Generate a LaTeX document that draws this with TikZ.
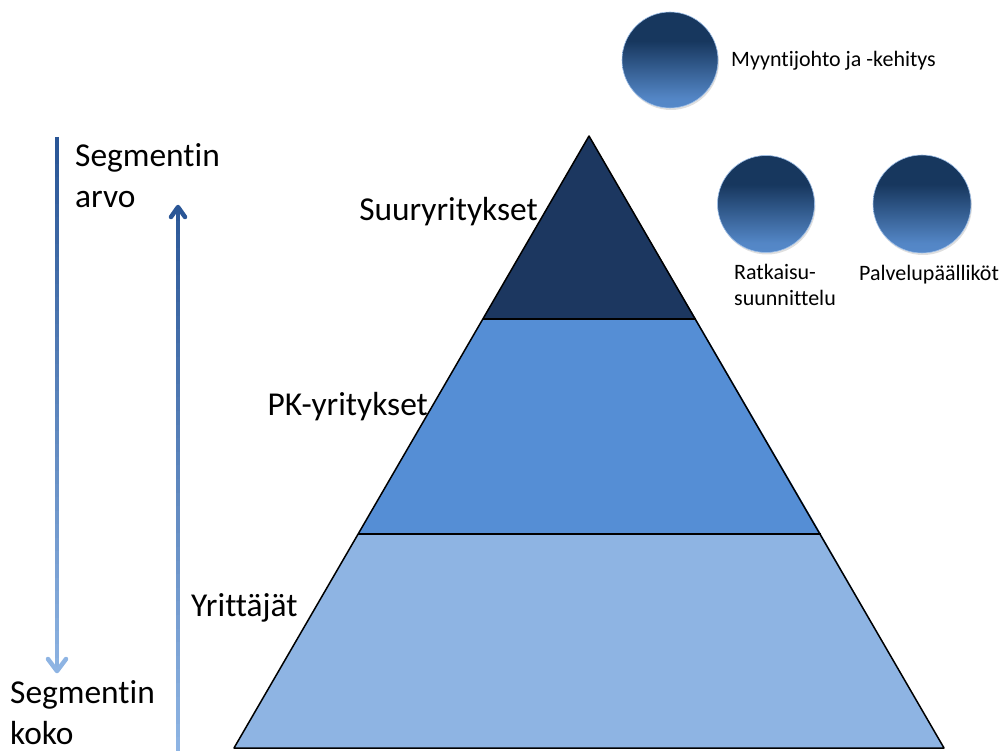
\documentclass[tikz,border=0pt]{standalone}
\usepackage{fontspec}
\setmainfont{Carlito}[Ligatures=NoCommon]
\usetikzlibrary{arrows.meta,calc,shadows}
\definecolor{pdark}{HTML}{1C3760}
\definecolor{pmid}{HTML}{558ED5}
\definecolor{plight}{HTML}{8EB4E3}
\definecolor{cdark}{HTML}{17375E}
\definecolor{clight}{HTML}{5E94D8}
\definecolor{adark}{HTML}{2A5696}
\tikzset{
  layer/.style={draw=black, line width=1.5pt, line join=round},
  bigtxt/.style={font=\fontsize{33.4}{41}\selectfont, inner sep=0pt, align=left},
  smalltxt/.style={font=\fontsize{22}{25}\selectfont, inner sep=0pt, align=left},
  ball/.style={circle, minimum size=#1, inner sep=0pt, draw=clight!60!white, line width=0.6pt, shading=ballshade, drop shadow={opacity=0.25, shadow xshift=1pt, shadow yshift=-2pt}},
  chev/.style={line width=4.5pt, line cap=round, line join=round}
}
\pgfdeclareverticalshading{ballshade}{100bp}{color(0bp)=(clight); color(30bp)=(clight!85!cdark); color(60bp)=(cdark); color(100bp)=(cdark)}
\begin{document}
\begin{tikzpicture}[x=1pt,y=-1pt]
\useasboundingbox (0,0) rectangle (1003,751);
% pyramid coordinates
\coordinate (apex) at (589,136);
\coordinate (l1) at (483,319);
\coordinate (r1) at (696,319);
\coordinate (l2) at (358,534);
\coordinate (r2) at (821,534);
\coordinate (bl) at (234,748);
\coordinate (br) at (944,748);
\fill[plight] (l2) -- (r2) -- (br) -- (bl) -- cycle;
\fill[pmid] (l1) -- (r1) -- (r2) -- (l2) -- cycle;
\fill[pdark] (apex) -- (r1) -- (l1) -- cycle;
\draw[layer] (apex) -- (bl) -- (br) -- cycle;
\draw[layer] (l1) -- (r1);
\draw[layer] (l2) -- (r2);
% labels
\node[bigtxt, anchor=base east] (suur) at (538,221) {Suuryritykset};
\node[bigtxt, anchor=base east] (pk) at (428,415) {PK-yritykset};
\node[bigtxt, anchor=base west] (yrit) at (191,616) {Yrittäjät};
% arrows
\coordinate (a1s) at (57,137);
\coordinate (a1e) at (57,671);
\coordinate (a2s) at (178,751);
\coordinate (a2e) at (178,207);
\foreach \i in {0,...,39}{
  \pgfmathsetmacro{\p}{\i*2.5}
  \draw[line width=4pt, color=plight!\p!adark] ($(a1s)!\i/40!(a1e)$) -- ($(a1s)!{min(1,(\i+1)/40+0.005)}!(a1e)$);
  \draw[line width=3.5pt, color=adark!\p!plight] ($(a2s)!\i/40!(a2e)$) -- ($(a2s)!{min(1,(\i+1)/40+0.005)}!(a2e)$);
}
\draw[chev, plight] ($(a1e)+(-9,-12)$) -- (a1e) -- ($(a1e)+(9,-12)$);
\draw[chev, adark] ($(a2e)+(-7,10)$) -- (a2e) -- ($(a2e)+(7,10)$);
\node[bigtxt, anchor=base west] (sarvo) at (75,208) {Segmentin\\arvo};
\node[bigtxt, anchor=base west] (skoko) at (10,744) {Segmentin\\koko};
% circles
\node[ball=96pt] (c1) at (670,60) {};
\node[ball=97pt] (c2) at (766,204) {};
\node[ball=98pt] (c3) at (922,204) {};
\node[smalltxt, anchor=base west] (t1) at (731,67) {Myyntijohto ja -kehitys};
\node[smalltxt, anchor=base west] (t2) at (734,305) {Ratkaisu-\\suunnittelu};
\node[smalltxt, anchor=base west] (t3) at (859,280) {Palvelupäälliköt};
\end{tikzpicture}
\end{document}
